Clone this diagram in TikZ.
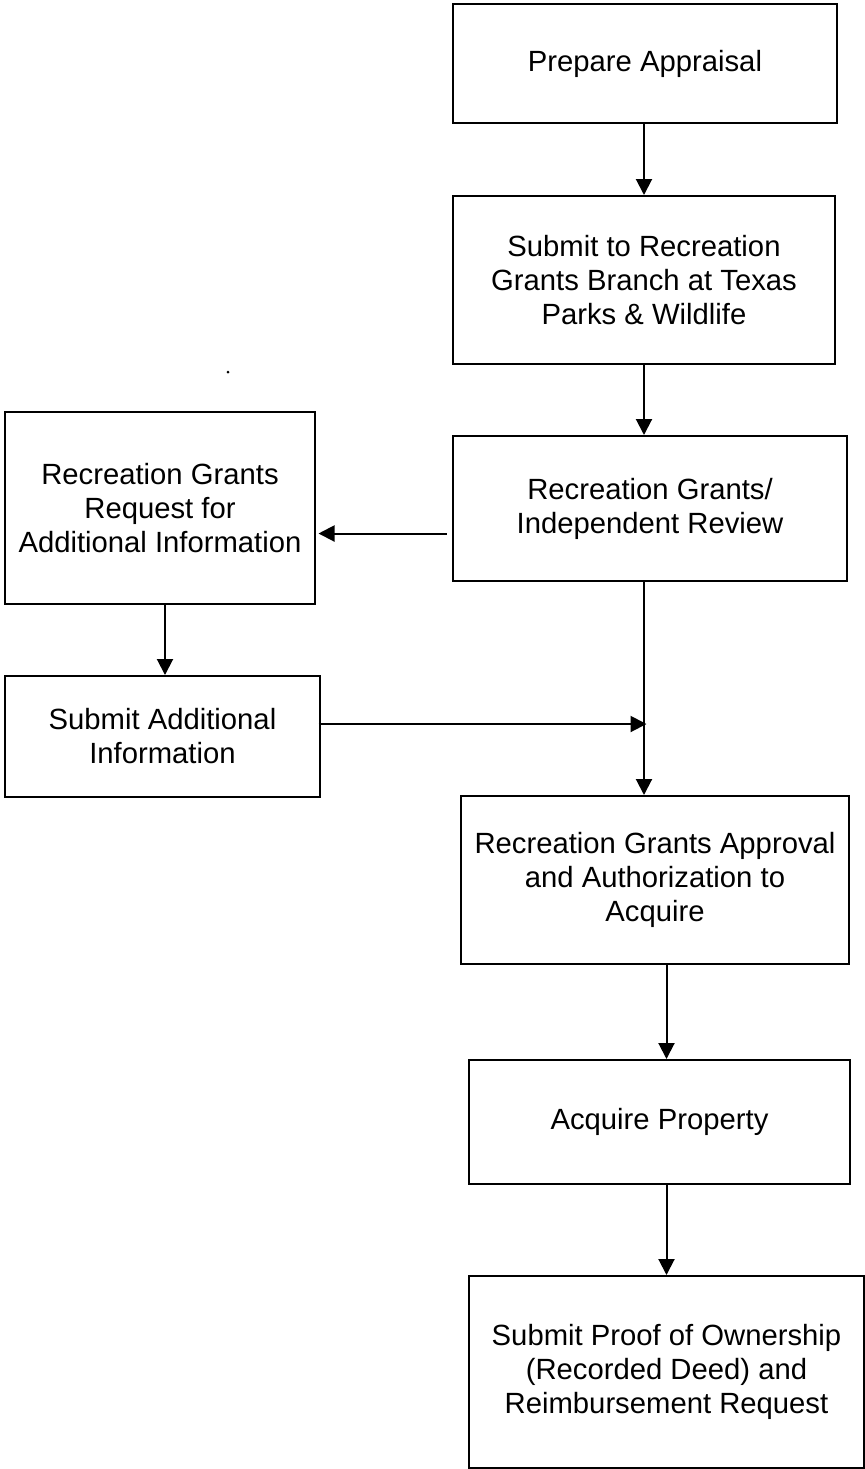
\documentclass[tikz,border=0pt]{standalone}
\usepackage{fontspec}
\setmainfont{Liberation Sans}
\usetikzlibrary{arrows.meta}

\tikzset{
  stepbox/.style={draw, rectangle, line width=0.8pt, inner sep=0pt, align=center,
    font=\fontsize{11.7}{13.6}\selectfont},
  arr/.style={line width=0.8pt, -{Triangle[width=6.4pt,length=6.4pt]}}
}

\begin{document}
\begin{tikzpicture}[x=0.4pt, y=-0.4pt]

\useasboundingbox (0,0) rectangle (865,1469);

    \node (prep) at (645,63.5) [stepbox, minimum width=153.6pt, minimum height=47.6pt] {Prepare Appraisal};
    \node (submit) at (644,280) [stepbox, minimum width=152.8pt, minimum height=67.2pt] {Submit to Recreation\\Grants Branch at Texas\\Parks \& Wildlife};
    \node (review) at (650,508.5) [stepbox, minimum width=157.6pt, minimum height=58pt] {Recreation Grants/\\Independent Review};
    \node (request) at (160,508) [stepbox, minimum width=124pt, minimum height=76.8pt] {Recreation Grants\\Request for\\Additional Information};
    \node (addinfo) at (162.5,736.5) [stepbox, minimum width=126pt, minimum height=48.4pt] {Submit Additional\\Information};
    \node (approve) at (655,880) [stepbox, minimum width=155.2pt, minimum height=67.2pt] {Recreation Grants Approval\\and Authorization to\\Acquire};
    \node (acquire) at (659.5,1122) [stepbox, minimum width=152.4pt, minimum height=49.6pt] {Acquire Property};
    \node (proof) at (666.5,1372) [stepbox, minimum width=158pt, minimum height=76.8pt] {Submit Proof of Ownership\\(Recorded Deed) and\\Reimbursement Request};

    % where the two branches meet
    \coordinate (join) at (644,724);

    \fill (228,372) circle (0.6pt);

    \draw[arr] (prep.south -| submit) -- (submit.north);
    \draw[arr] (submit.south) -- (submit.south |- review.north);
    \draw[arr, shorten >=1pt] ([shift={(-2pt,-10pt)}]review.west) coordinate (back) -- (request.east |- back);
    \draw[arr] ([xshift=2pt]request.south) -- ([xshift=2pt]request.south |- addinfo.north);
    \draw[arr] ([xshift=-1pt]addinfo.east |- join) -- ([xshift=1pt]join);
    \draw[arr] (review.south -| join) -- (join |- approve.north);
    \draw[arr] (approve.south -| proof) -- (acquire.north -| proof);
    \draw[arr] (acquire.south -| proof) -- (proof.north);

\end{tikzpicture}
\end{document}
